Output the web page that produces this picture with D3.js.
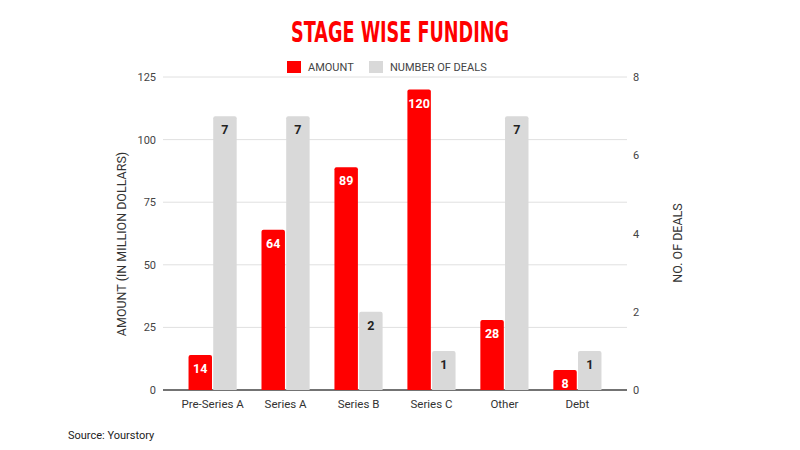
<!DOCTYPE html>
<html lang='en'>
<head>
  <title>Stage Wise Funding</title>
  <script src='https://cdn.jsdelivr.net/npm/d3@7/dist/d3.min.js'></script>
  <style>
    body { margin: 0; background: #fff; }
    text { font-family: Roboto, "Liberation Sans", sans-serif; }
  </style>
</head>
<body>
  <script>
    // chart data
    const stages = ["Pre-Series A", "Series A", "Series B", "Series C", "Other", "Debt"];
    const amounts = [14, 64, 89, 120, 28, 8];     // million dollars
    const deals = [7, 7, 2, 1, 7, 1];             // number of deals
    const amountTicks = [0, 25, 50, 75, 100, 125];
    const dealTicks = [0, 2, 4, 6, 8];

    const width = 800, height = 450;
    const plot = { left: 163, right: 627, top: 77, bottom: 390 };

    let svg = d3.select("body").append("svg")
      .attr("width", width)
      .attr("height", height);

    // scales
    let xScale = d3.scaleBand()
      .domain(stages)
      .range([plot.left, plot.right])
      .paddingInner(0.34)
      .paddingOuter(0.35);
    let subScale = d3.scaleBand()
      .domain(["amount", "deals"])
      .range([0, xScale.bandwidth()])
      .paddingInner(0.05);
    let yLeft = d3.scaleLinear().domain([0, 125]).range([plot.bottom, plot.top]);
    let yRight = d3.scaleLinear().domain([0, 8]).range([plot.bottom, plot.top]);

    // gridlines
    svg.append("g").selectAll("line").data(amountTicks).join("line")
      .attr("x1", plot.left).attr("x2", plot.right)
      .attr("y1", d => yLeft(d)).attr("y2", d => yLeft(d))
      .attr("stroke", d => d === 0 ? "#444" : "#e0e0e0")
      .attr("stroke-width", d => d === 0 ? 1.5 : 1);

    // left axis
    let leftAxis = svg.append("g")
      .attr("transform", `translate(${plot.left}, 0)`)
      .call(d3.axisLeft(yLeft).tickValues(amountTicks).tickSize(0).tickPadding(7));
    leftAxis.select(".domain").remove();
    leftAxis.selectAll("text").attr("font-size", 11).attr("fill", "#444")
      .style("font-family", "Roboto, sans-serif");

    // right axis
    let rightAxis = svg.append("g")
      .attr("transform", `translate(${plot.right}, 0)`)
      .call(d3.axisRight(yRight).tickValues(dealTicks).tickSize(0).tickPadding(6));
    rightAxis.select(".domain").remove();
    rightAxis.selectAll("text").attr("font-size", 11).attr("fill", "#444")
      .style("font-family", "Roboto, sans-serif");

    // bottom category labels
    let bottomAxis = svg.append("g")
      .attr("transform", `translate(0, ${plot.bottom})`)
      .call(d3.axisBottom(xScale).tickSize(0).tickPadding(10));
    bottomAxis.select(".domain").remove();
    bottomAxis.selectAll("text").attr("font-size", 11.5).attr("fill", "#333")
      .style("font-family", "Roboto, sans-serif");

    // rounded-top bar path
    function barPath(x, y, w, h, r) {
      r = Math.min(r, h);
      return `M${x},${y + h}V${y + r}Q${x},${y} ${x + r},${y}H${x + w - r}Q${x + w},${y} ${x + w},${y + r}V${y + h}Z`;
    }

    let groups = svg.append("g").selectAll("g").data(stages).join("g")
      .attr("transform", d => `translate(${xScale(d)}, 0)`);

    // amount bars
    groups.append("path")
      .attr("d", (d, i) => barPath(subScale("amount"), yLeft(amounts[i]),
        subScale.bandwidth(), plot.bottom - yLeft(amounts[i]), 2))
      .attr("fill", "#ff0000");
    groups.append("text")
      .text((d, i) => amounts[i])
      .attr("x", subScale("amount") + subScale.bandwidth() / 2)
      .attr("y", (d, i) => yLeft(amounts[i]) + 18)
      .attr("text-anchor", "middle")
      .attr("font-size", 12.5).attr("font-weight", "bold").attr("fill", "#fff");

    // deals bars
    groups.append("path")
      .attr("d", (d, i) => barPath(subScale("deals"), yRight(deals[i]),
        subScale.bandwidth(), plot.bottom - yRight(deals[i]), 2))
      .attr("fill", "#d9d9d9");
    groups.append("text")
      .text((d, i) => deals[i])
      .attr("x", subScale("deals") + subScale.bandwidth() / 2)
      .attr("y", (d, i) => yRight(deals[i]) + 18)
      .attr("text-anchor", "middle")
      .attr("font-size", 12.5).attr("font-weight", "bold").attr("fill", "#222");

    // title (condensed to match the narrow display face)
    svg.append("text").text("STAGE WISE FUNDING")
      .attr("x", 400).attr("y", 42)
      .attr("text-anchor", "middle")
      .attr("font-size", 28).attr("font-weight", "bold")
      .attr("fill", "#ff0000")
      .attr("textLength", 218)
      .attr("lengthAdjust", "spacingAndGlyphs")
      .style("font-family", "'DejaVu Sans', sans-serif");

    // legend
    let legend = svg.append("g");
    legend.append("rect").attr("x", 287).attr("y", 61).attr("width", 14).attr("height", 12).attr("fill", "#ff0000");
    legend.append("text").text("AMOUNT").attr("x", 308).attr("y", 71)
      .attr("font-size", 11).attr("fill", "#444");
    legend.append("rect").attr("x", 369).attr("y", 61).attr("width", 14).attr("height", 12).attr("fill", "#d9d9d9");
    legend.append("text").text("NUMBER OF DEALS").attr("x", 390).attr("y", 71)
      .attr("font-size", 11).attr("fill", "#444");

    // axis titles
    svg.append("text").text("AMOUNT (IN MILLION DOLLARS)")
      .attr("transform", `translate(126, 244) rotate(-90)`)
      .attr("text-anchor", "middle")
      .attr("font-size", 12.5).attr("fill", "#333");
    svg.append("text").text("NO. OF DEALS")
      .attr("transform", `translate(682, 243) rotate(-90)`)
      .attr("text-anchor", "middle")
      .attr("font-size", 12.5).attr("fill", "#333");

    // source
    svg.append("text").text("Source: Yourstory")
      .attr("x", 68).attr("y", 439)
      .attr("font-size", 11).attr("fill", "#222");
  </script>
</body>
</html>
